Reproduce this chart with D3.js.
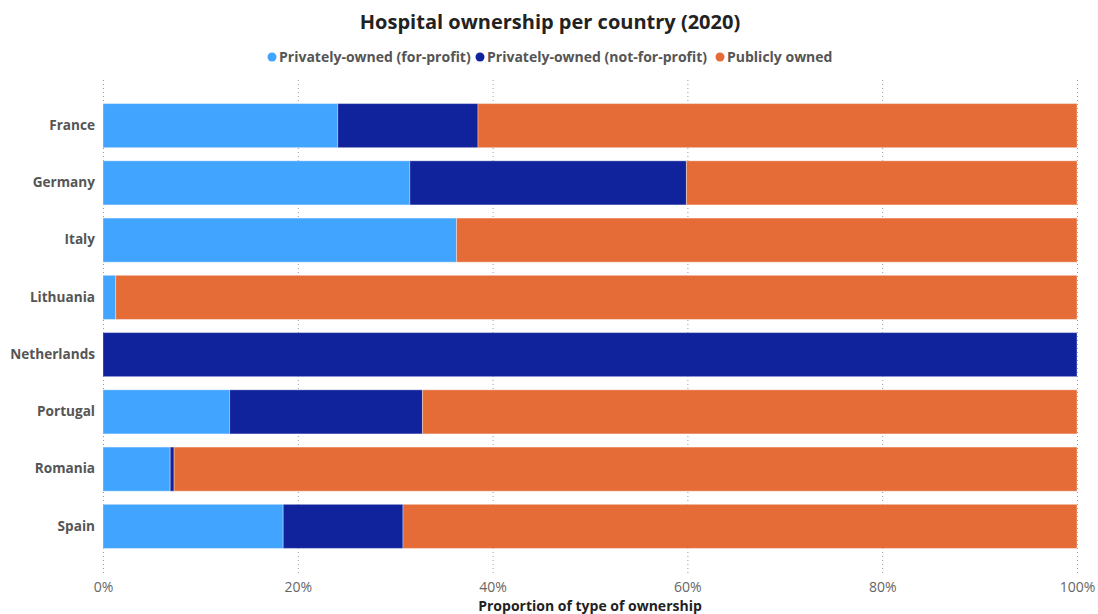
<!DOCTYPE html>
<html>
<head>
<meta charset="utf-8">
<script src="https://cdn.jsdelivr.net/npm/d3@7"></script>
<style>
  body { margin: 0; background: #fff; font-family: "Open Sans", sans-serif; }
  .grid line { stroke: #999; stroke-dasharray: 1,3; }
  .grid path { display: none; }
</style>
</head>
<body>
<div id="chart"></div>
<script>
// Data (percent of hospitals)
var countries = ["France", "Germany", "Italy", "Lithuania", "Netherlands", "Portugal", "Romania", "Spain"];
var forProfit = [24.1, 31.5, 36.3, 1.3, 0, 13.0, 6.9, 18.5];
var notForProfit = [14.4, 28.4, 0, 0, 100, 19.8, 0.4, 12.3];
var publicOwned = [61.5, 40.1, 63.7, 98.7, 0, 67.2, 92.7, 69.2];
var seriesNames = ["Privately-owned (for-profit)", "Privately-owned (not-for-profit)", "Publicly owned"];
var seriesColors = ["#41a4ff", "#11239c", "#e56c37"];
var xTicks = [0, 20, 40, 60, 80, 100];

var width = 1098, height = 614;
var margin = {left: 103, right: 21, top: 97, bottom: 59};

var svg = d3.select("#chart")
    .append("svg")
    .attr("width", width)
    .attr("height", height);

// Title
svg.append("text")
    .attr("x", width / 2 + 1)
    .attr("y", 29)
    .attr("text-anchor", "middle")
    .attr("font-size", "20px")
    .attr("font-weight", "bold")
    .attr("fill", "#222")
    .text("Hospital ownership per country (2020)");

// Build rows for stacking
var rows = countries.map(function (c, i) {
    return {country: c, s0: forProfit[i], s1: notForProfit[i], s2: publicOwned[i]};
});
var stack = d3.stack().keys(["s0", "s1", "s2"]);
var layers = stack(rows);

var x = d3.scaleLinear()
    .domain([0, 100])
    .range([margin.left, width - margin.right]);

var y = d3.scaleBand()
    .domain(countries)
    .range([margin.top, height - margin.bottom])
    .paddingInner(0.23)
    .paddingOuter(0.115);

// Dotted vertical grid
svg.append("g")
    .attr("class", "grid")
    .call(d3.axisBottom(x).tickValues(xTicks).tickSize(0).tickFormat(""))
    .selectAll(".tick line")
    .attr("y1", 80)
    .attr("y2", 573);

// Bars
svg.append("g")
    .selectAll("g")
    .data(layers)
    .enter()
    .append("g")
    .attr("fill", function (d, i) { return seriesColors[i]; })
    .selectAll("rect")
    .data(function (d) { return d; })
    .enter()
    .append("rect")
    .filter(function (d) { return d[1] - d[0] > 0; })
    .attr("x", function (d) { return x(d[0]); })
    .attr("y", function (d) { return y(d.data.country); })
    .attr("width", function (d) { return x(d[1]) - x(d[0]); })
    .attr("height", y.bandwidth())
    .attr("stroke", "rgba(255,255,255,0.35)")
    .attr("stroke-width", 1);

// Y axis labels
var yAxis = svg.append("g")
    .attr("transform", "translate(" + margin.left + ",0)")
    .call(d3.axisLeft(y).tickSize(0).tickPadding(8));
yAxis.select(".domain").remove();
yAxis.selectAll("text")
    .attr("font-family", "Open Sans")
    .attr("font-size", "13.6px")
    .attr("font-weight", "bold")
    .attr("fill", "#555");

// X axis labels
var xAxis = svg.append("g")
    .attr("transform", "translate(0,579)")
    .call(d3.axisBottom(x).tickValues(xTicks).tickSize(0).tickFormat(function (d) { return d + "%"; }));
xAxis.select(".domain").remove();
xAxis.selectAll("text")
    .attr("font-family", "Open Sans")
    .attr("font-size", "14px")
    .attr("fill", "#666");

// X axis title
svg.append("text")
    .attr("x", x(50))
    .attr("y", 611)
    .attr("text-anchor", "middle")
    .attr("font-size", "14px")
    .attr("font-weight", "bold")
    .attr("fill", "#222")
    .text("Proportion of type of ownership");

// Legend
var legendX = [272, 480, 720];
var legend = svg.append("g")
    .selectAll("g")
    .data(seriesNames)
    .enter()
    .append("g")
    .attr("transform", function (d, i) { return "translate(" + legendX[i] + ",57)"; });
legend.append("circle")
    .attr("r", 4.5)
    .attr("fill", function (d, i) { return seriesColors[i]; });
legend.append("text")
    .attr("x", 7)
    .attr("dy", "0.35em")
    .attr("font-size", "14px")
    .attr("font-weight", "bold")
    .attr("fill", "#555")
    .text(function (d) { return d; });
</script>
</body>
</html>
